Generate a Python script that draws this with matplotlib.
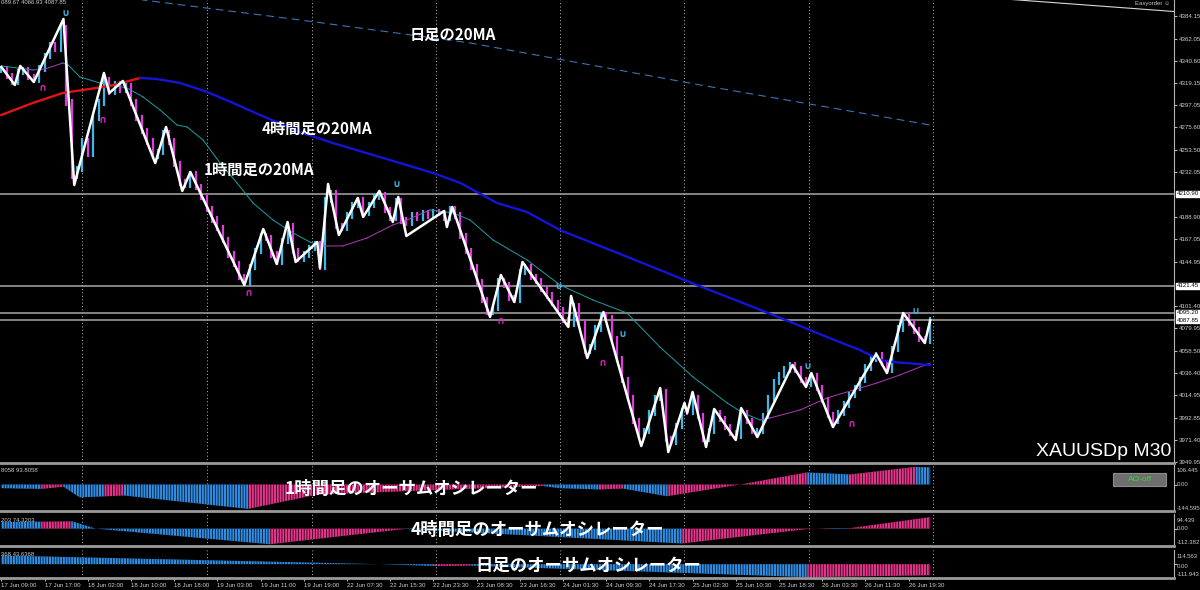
"""MT4 style XAUUSD M30 chart with zigzag, MAs and three awesome oscillator panels."""
import numpy as np
import matplotlib.pyplot as plt
from matplotlib.patches import Rectangle

plt.rcParams['font.family'] = ['Noto Sans CJK JP', 'DejaVu Sans']
plt.rcParams['hatch.linewidth'] = 0.5

W, H = 1200, 590
RIGHT = 1174  # x pixel of the price axis

# ---- data (bar index = M30 bar, prices in USD) ----
time_labels = ['17 Jun 09:00', '17 Jun 17:00', '18 Jun 02:00', '18 Jun 10:00',
               '18 Jun 18:00', '19 Jun 03:00', '19 Jun 11:00', '19 Jun 19:00',
               '22 Jun 07:30', '22 Jun 15:30', '22 Jun 23:30', '23 Jun 08:30',
               '23 Jun 16:30', '24 Jun 01:30', '24 Jun 09:30', '24 Jun 17:30',
               '25 Jun 02:30', '25 Jun 10:30', '25 Jun 18:30', '26 Jun 03:30',
               '26 Jun 11:30', '26 Jun 19:30']
time_label_bars = list(range(0, 337, 16))
sep_bars = [30, 76, 115, 161, 207, 253, 299, 345]

# closes sampled every 2 bars
close_bars = list(range(0, 345, 2))
closes = [4332, 4326, 4320, 4330, 4331, 4325, 4322, 4333, 4345, 4356,
          4352, 4372, 4300, 4228, 4235, 4262, 4250, 4285, 4300, 4322,
          4310, 4318, 4312, 4316, 4300, 4285, 4272, 4262, 4248, 4252,
          4270, 4262, 4240, 4222, 4220, 4230, 4218, 4208, 4196, 4186,
          4178, 4166, 4152, 4143, 4130, 4124, 4140, 4155, 4170, 4168,
          4152, 4145, 4165, 4180, 4155, 4148, 4152, 4158, 4162, 4140,
          4205, 4212, 4180, 4178, 4190, 4200, 4205, 4192, 4200, 4208,
          4210, 4195, 4188, 4204, 4185, 4183, 4190, 4188, 4192, 4190,
          4193, 4192, 4188, 4196, 4190, 4170, 4155, 4140, 4125, 4108,
          4096, 4100, 4126, 4122, 4110, 4108, 4135, 4140, 4130, 4126,
          4118, 4112, 4105, 4098, 4088, 4084, 4102, 4085, 4058, 4062,
          4080, 4093, 4090, 4070, 4050, 4030, 4012, 3990, 3975, 3980,
          3998, 4012, 4018, 3972, 3970, 3985, 4000, 3999, 4012, 3995,
          3972, 3980, 3998, 3992, 3984, 3978, 3975, 3998, 3990, 3980,
          3980, 3995, 4012, 4028, 4035, 4040, 4044, 4040, 4030, 4026,
          4034, 4022, 4010, 3996, 3990, 3998, 4006, 4015, 4022, 4030,
          4042, 4050, 4054, 4046, 4040, 4060, 4080, 4092, 4085, 4078,
          4070, 4068, 4088]

zz_bars = [0, 5, 7, 12, 23, 27, 38, 40, 45, 57, 61, 67, 70, 90, 97, 102, 106,
           109, 117, 118, 121, 125, 132, 134, 140, 145, 147, 150, 164, 165, 167,
           181, 185, 190, 193, 210, 211, 217, 223, 237, 244, 247, 253, 254, 256,
           261, 264, 272, 274, 280, 293, 298, 300, 308, 324, 328, 334, 342, 344]
zz_price = [4334.5, 4317.0, 4335.5, 4319.9, 4381.2, 4219.6, 4328.7, 4309.2,
            4320.9, 4241.0, 4276.1, 4213.8, 4232.3, 4122.3, 4176.8, 4142.7,
            4183.6, 4144.7, 4164.1, 4138.8, 4220.6, 4170.9, 4207.0, 4188.5,
            4213.8, 4183.6, 4207.9, 4170.0, 4194.3, 4178.7, 4198.2, 4091.1,
            4132.0, 4105.7, 4144.7, 4081.4, 4111.6, 4051.2, 4096.0, 3965.5,
            4022.0, 3959.7, 4007.4, 3997.7, 4018.1, 3964.6, 4001.6, 3971.4,
            4002.5, 3974.3, 4044.4, 4023.0, 4036.6, 3984.0, 4055.1, 4036.6,
            4095.0, 4065.8, 4087.85]

ma4h_bars = [0, 11.7, 22.8, 30.2, 40.2, 51.4, 57.6, 66.2, 76.2, 85.8, 95.8,
             110.6, 122.8, 141.4, 159.9, 170, 183.6, 194.7, 206.9, 225.4, 243.9,
             257.6, 274.7, 293.2, 305.8, 318, 325.4, 330.2, 344]
ma4h_vals = [4287.8, 4299.5, 4309.2, 4312.1, 4316.0, 4323.8, 4322.8, 4318.9,
             4310.2, 4299.5, 4287.8, 4271.2, 4260.5, 4245.9, 4231.3, 4221.6,
             4202.1, 4193.3, 4175.8, 4156.4, 4136.9, 4122.3, 4104.7, 4085.3,
             4071.6, 4059.0, 4049.3, 4047.3, 4044.4]
ma4h_rising_until = 5  # index where the line turns from red to blue

ma1h_bars = [0, 11.7, 16.2, 22.8, 24.7, 29.1, 36.5, 46.5, 52.5, 58.8, 65.1,
             68.8, 74.7, 81, 87.3, 93.2, 100.6, 108, 114.3, 118, 126.5, 135.4,
             145, 150.2, 158.8, 167.3, 173.6, 182.1, 194.7, 206.9, 219.1, 231.7,
             243.9, 256.2, 268.8, 274.7, 281, 284.7, 295.8, 305.8, 324.3, 332.8,
             344]
ma1h_vals = [4335.5, 4331.6, 4332.6, 4338.4, 4336.5, 4324.8, 4318.9, 4314.1,
             4305.3, 4292.6, 4278.0, 4276.1, 4263.4, 4241.0, 4221.6, 4202.1,
             4185.6, 4172.9, 4164.1, 4160.2, 4160.3, 4168.0, 4180.7, 4185.6,
             4195.3, 4192.4, 4185.6, 4166.1, 4146.6, 4122.3, 4107.7, 4095.0,
             4061.9, 4032.7, 4007.4, 3997.7, 3990.9, 3992.8, 4000.6, 4012.3,
             4026.9, 4034.7, 4046.3]

ma1d_bars = [36.5, 52.5, 110.6, 173.6, 258.8, 344]
ma1d_vals = [4412.0, 4399.7, 4380.3, 4357.9, 4317.0, 4278.0]

hline_prices = [4210.90, 4121.45, 4095.20, 4087.85]
price_ticks = [4384.15, 4362.05, 4340.60, 4319.15, 4297.05, 4275.60, 4253.50,
               4232.05, 4188.90, 4167.05, 4144.95, 4101.40, 4079.95, 4058.50,
               4036.40, 4014.95, 3992.85, 3971.40, 3949.95]

frac_hi_bars = [23.6, 146.5, 206.2, 230.2, 298.4, 338.4]
frac_hi_vals = [4387.1, 4220.6, 4121.3, 4074.6, 4043.4, 4096.9]
frac_lo_bars = [15.4, 37.6, 91.4, 184.7, 222.8, 314.7]
frac_lo_vals = [4315.0, 4283.9, 4115.5, 4088.2, 4047.3, 3987.9]

# awesome oscillators: knots and colour of each segment (b = falling, m = rising)
ao1_bars = [0, 15, 23, 29, 38, 45.4, 91.4, 117, 200.6, 206.5, 221.7, 230.2,
            246.5, 273.6, 298.4, 314.3, 338.4, 344]
ao1_vals = [-20, -24, -12, -70, -65, -60, -133, -55, -8, -20, -27, -22, -64, 0,
            66, 55, 96, 93.8]
ao1_cols = 'bmbbmbmmbbmbmmbmb'
ao2_bars = [0, 15, 26.2, 35, 99.5, 149.5, 252.1, 298.8, 307, 314.3, 344]
ao2_vals = [43, 45, 47, 0, -101, -2, -96, -2, 4, 3, 74.3]
ao2_cols = 'bmbbmbmmbm'
ao3_bars = [0, 140, 161, 174, 298.8, 344]
ao3_vals = [70, 0, -15, -12, -105, -90]
ao3_cols = 'bbmbm'

# ---- drawing ----
UP, DOWN = '#3DB8E8', '#E03CE0'
AO_COL = {'b': '#2F8FE6', 'm': '#E6338C'}
AXIS_FONT = ['Liberation Sans', 'DejaVu Sans']


def fx(x):
    return x / W


def fy(y):
    return 1 - y / H


fig = plt.figure(figsize=(12, 5.9), dpi=100, facecolor='black')


def px_axes(top, bottom):
    ax = fig.add_axes([0, 1 - bottom / H, RIGHT / W, (bottom - top) / H])
    ax.set_facecolor('black')
    ax.set_xlim(-0.5, 434.3)
    ax.spines['left'].set_visible(False)
    ax.spines['top'].set_visible(False)
    ax.spines['right'].set_color('#B4B4B4')
    ax.spines['bottom'].set_color('#9A9A9A')
    ax.spines['bottom'].set_linewidth(2)
    ax.set_xticks([])
    ax.set_yticks([])
    for b in sep_bars:
        ax.axvline(b, color='#BEBEBE', lw=0.7, ls=(0, (1, 2.5)), zorder=1)
    return ax


# main price panel
ax = px_axes(0, 463)
ax.set_ylim(3949.0, 4399.7)

for p in hline_prices:
    ax.axhline(p, color='#A8A8A8', lw=1.1, zorder=1.5)

opens = [closes[0]] + closes[:-1]
lo = np.minimum(opens, closes) - 3
hi = np.maximum(opens, closes) + 3
cols = [UP if c >= o else DOWN for o, c in zip(opens, closes)]
ax.vlines(close_bars, lo, hi, colors=cols, lw=1.6, zorder=2)

ax.plot(ma1d_bars, ma1d_vals, color='#3C74B4', lw=0.8, ls=(0, (7, 4.5)), zorder=3)
for i in range(len(ma1h_bars) - 1):
    c = '#1E9EA8' if ma1h_vals[i + 1] < ma1h_vals[i] else '#B23AB8'
    ax.plot(ma1h_bars[i:i + 2], ma1h_vals[i:i + 2], color=c, lw=0.7, zorder=3)
k = ma4h_rising_until
ax.plot(ma4h_bars[:k + 1], ma4h_vals[:k + 1], color='#E01414', lw=1.7, zorder=3)
ax.plot(ma4h_bars[k:], ma4h_vals[k:], color='#1414D8', lw=1.7, zorder=3)

ax.plot(zz_bars, zz_price, color='white', lw=1.8, zorder=5)

# trendline of the order panel at top right
ax.plot([370, 434.3], [4401, 4388.5], color='#D8D8D8', lw=0.8, zorder=3)

for b, v in zip(frac_hi_bars, frac_hi_vals):
    ax.text(b, v, '\u222a', color='#3DB8E8', ha='center', va='center', fontsize=7,
            fontweight='bold', family=['DejaVu Sans'], zorder=6)
for b, v in zip(frac_lo_bars, frac_lo_vals):
    ax.text(b, v, '\u2229', color='#E020C0', ha='center', va='center', fontsize=7,
            fontweight='bold', family=['DejaVu Sans'], zorder=6)

ax.yaxis.tick_right()
ax.set_yticks(price_ticks)
ax.set_yticklabels(['{:.2f}'.format(p) for p in price_ticks])
ax.tick_params(axis='y', length=2.5, color='#B4B4B4', labelsize=4.4,
               labelcolor='#D0D0D0', pad=1)
for lbl in ax.get_yticklabels():
    lbl.set_family(AXIS_FONT)
for p in hline_prices:
    ax.text(1.0025, p, '{:.2f}'.format(p), transform=ax.get_yaxis_transform(),
            ha='left', va='center', fontsize=4.4, color='black',
            family=AXIS_FONT,
            bbox=dict(boxstyle='square,pad=0.1', fc='white', ec='white'))


# oscillator panels
def ao_panel(top, bottom, ylim, bars, vals, colors):
    a = px_axes(top, bottom)
    a.set_ylim(*ylim)
    for i, c in enumerate(colors):
        a.fill_between(bars[i:i + 2], 0, vals[i:i + 2], facecolor=AO_COL[c],
                       edgecolor='black', hatch='||||||', lw=0, zorder=2)
    a.yaxis.tick_right()
    a.set_yticks([0])
    a.set_yticklabels([])
    a.tick_params(axis='y', length=2.5, color='#B4B4B4')
    return a


ax1 = ao_panel(465, 511, (-144.595, 106.445), ao1_bars, ao1_vals, ao1_cols)
ax2 = ao_panel(514, 546, (-112.382, 94.439), ao2_bars, ao2_vals, ao2_cols)
ax3 = ao_panel(550, 578, (-111.943, 114.563), ao3_bars, ao3_vals, ao3_cols)

ax3.set_xticks(time_label_bars)
ax3.set_xticklabels(time_labels)
ax3.tick_params(axis='x', length=2.5, color='#B4B4B4', labelsize=4.4,
                labelcolor='#D0D0D0', pad=1)
for lbl in ax3.get_xticklabels():
    lbl.set_ha('left')
    lbl.set_family(AXIS_FONT)

small = dict(fontsize=4.3, color='#C8C8C8', family=AXIS_FONT, va='center')
for txt, y in [('106.445', 470), ('0.00', 485), ('-144.595', 508),
               ('94.439', 520), ('0.00', 529), ('-112.382', 542),
               ('114.563', 557), ('0.00', 566), ('-111.943', 575)]:
    fig.text(fx(1177), fy(y), txt, ha='left', **small)
for txt, y in [('089.67 4066.93 4087.85', 3), ('8058 93.8058', 471),
               ('203 74.3203', 521), ('368 43.6368', 555)]:
    fig.text(fx(1), fy(y), txt, ha='left', **small)
fig.text(fx(1170), fy(3), 'Easyorder \u263a', ha='right', **small)

# AO-off button
fig.patches.append(Rectangle((fx(1113), fy(486)), 53 / W, 13 / H,
                             transform=fig.transFigure, facecolor='#6E6E6E',
                             edgecolor='#8C8C8C', lw=0.8))
fig.text(fx(1140), fy(479.5), 'AO-off', ha='center', va='center', fontsize=6,
         color='#3CD23C', family=AXIS_FONT)

fig.text(fx(1171), fy(451), 'XAUUSDp M30', ha='right', va='center', fontsize=14,
         color='white', family=['Liberation Sans'])

# annotations
jp = dict(color='white', fontweight='bold', ha='left', va='center',
          family=['Noto Sans CJK JP', 'DejaVu Sans'])
fig.text(fx(410), fy(35), '日足の20MA', fontsize=11, **jp)
fig.text(fx(262), fy(129), '4時間足の20MA', fontsize=11, **jp)
fig.text(fx(204), fy(170), '1時間足の20MA', fontsize=11, **jp)
fig.text(fx(285), fy(489), '1時間足のオーサムオシレーター', fontsize=12.5, **jp)
fig.text(fx(411), fy(530), '4時間足のオーサムオシレーター', fontsize=12.5, **jp)
fig.text(fx(475), fy(566), '日足のオーサムオシレーター', fontsize=12.5, **jp)

fig.savefig('out.png', dpi=100, facecolor='black')
